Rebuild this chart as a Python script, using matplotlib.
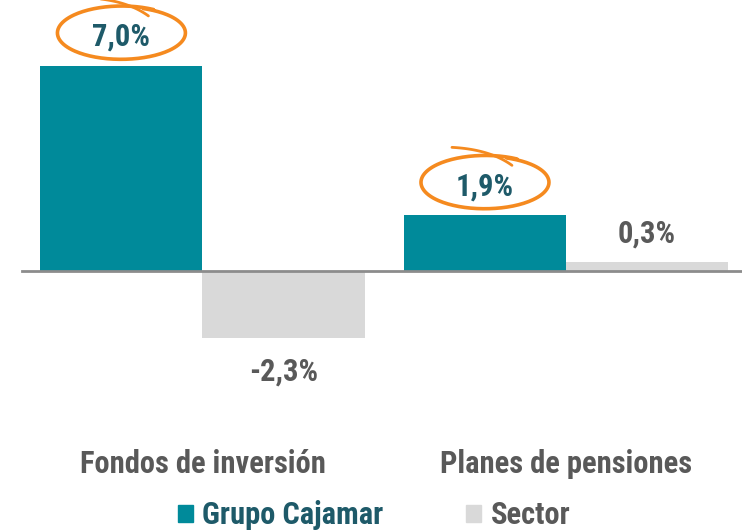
import numpy as np
import matplotlib
matplotlib.use('Agg')
from matplotlib import pyplot as plt
from matplotlib import transforms as mtransforms
from matplotlib import font_manager as fm
from matplotlib.patches import Rectangle

# --- Datos ---
categorias = ['Fondos de inversión', 'Planes de pensiones']
series = ['Grupo Cajamar', 'Sector']
cajamar = [7.0, 1.9]
sector = [-2.3, 0.3]
etiquetas_cajamar = ['7,0%', '1,9%']
etiquetas_sector = ['-2,3%', '0,3%']

# --- Fuente estrecha (tipo Arial Narrow) si la hay ---
fuentes = {(f.name, f.stretch) for f in fm.fontManager.ttflist}
nombres = {n for n, _ in fuentes}
estrecha = None
for n in ['Liberation Sans Narrow', 'Arial Narrow', 'Roboto Condensed',
          'Open Sans Condensed', 'DejaVu Sans Condensed']:
    if n in nombres:
        estrecha = (n, 'normal')
        break
if estrecha is None:
    for n, st in fuentes:
        if n in ('DejaVu Sans', 'Liberation Sans', 'Roboto', 'Open Sans', 'Noto Sans') \
                and st in ('condensed', 'semi-condensed', 500, 'semi-expanded') and st != 'semi-expanded':
            estrecha = (n, st)
            break
if estrecha is not None:
    plt.rcParams['font.family'] = [estrecha[0], 'DejaVu Sans']
    plt.rcParams['font.stretch'] = estrecha[1]
    fs = 22
else:
    plt.rcParams['font.family'] = ['Liberation Sans', 'DejaVu Sans']
    fs = 18

# --- Estilo ---
c_cajamar = '#008a9a'
c_sector = '#d9d9d9'
c_txt_cajamar = '#1e5a69'
c_txt_gris = '#595959'
c_naranja = '#f58a1f'

fig = plt.figure(figsize=(7.42, 5.31), dpi=100)
ax = fig.add_axes([0, 100 / 531, 1, 431 / 531])

x = np.arange(len(categorias))
w = 0.446
ax.bar(x - w / 2, cajamar, w, color=c_cajamar, label=series[0])
ax.bar(x + w / 2, sector, w, color=c_sector, label=series[1])

ax.set_xlim(-0.557, 1.484)
ax.set_ylim(-5.46, 9.25)
ax.axhline(0, xmin=0.03, xmax=1, color='#8c8c8c', lw=2, zorder=3)

ax.set_xticks(x)
ax.set_xticklabels(categorias, fontsize=fs, fontweight='bold', color=c_txt_gris)
ax.tick_params(axis='x', length=0, pad=13)
ax.set_yticks([])
for s in ax.spines.values():
    s.set_visible(False)

# --- Etiquetas de valor ---
for xi, v, t in zip(x - w / 2, cajamar, etiquetas_cajamar):
    ax.annotate(t, (xi, v), xytext=(0, 21), textcoords='offset points',
                ha='center', va='center', fontsize=fs, fontweight='bold',
                color=c_txt_cajamar)
for xi, v, t in zip(x + w / 2, sector, etiquetas_sector):
    dy = 21 if v >= 0 else -24
    ax.annotate(t, (xi, v), xytext=(0, dy), textcoords='offset points',
                ha='center', va='center', fontsize=fs, fontweight='bold',
                color=c_txt_gris)

# --- Óvalos naranjas a mano alzada sobre Grupo Cajamar ---
t = np.linspace(np.radians(60), np.radians(60 + 370), 200)
ex = 0.64 * np.cos(t)
ey = 0.27 * np.sin(t) * (1 - 0.04 * (t - t[0]) / (t[-1] - t[0]))
s = np.linspace(0, 1, 40)
tx = (1 - s) ** 2 * -0.33 + 2 * (1 - s) * s * 0.05 + s ** 2 * 0.27
ty = (1 - s) ** 2 * 0.35 + 2 * (1 - s) * s * 0.33 + s ** 2 * 0.17
for xi, v in zip(x - w / 2, cajamar):
    tr = fig.dpi_scale_trans + mtransforms.ScaledTranslation(xi, v, ax.transData)
    tr = mtransforms.Affine2D().translate(0, 0.33) + tr
    ax.plot(ex, ey, color=c_naranja, lw=2.6, transform=tr, clip_on=False,
            solid_capstyle='round', zorder=4)
    ax.plot(tx, ty, color=c_naranja, lw=2.0, transform=tr, clip_on=False,
            solid_capstyle='round', zorder=4)

# --- Leyenda ---
handles = [Rectangle((0, 0), 1, 1, color=c_cajamar),
           Rectangle((0, 0), 1, 1, color=c_sector)]
leg = fig.legend(handles, series, loc='center', bbox_to_anchor=(0.504, 0.03),
                 ncol=2, frameon=False, handlelength=0.5, handleheight=0.5,
                 handletextpad=0.3, columnspacing=2.7, borderpad=0,
                 prop={'size': fs, 'weight': 'bold'})
for txt, col in zip(leg.get_texts(), [c_txt_cajamar, c_txt_gris]):
    txt.set_color(col)

fig.savefig('out.png', dpi=100)
